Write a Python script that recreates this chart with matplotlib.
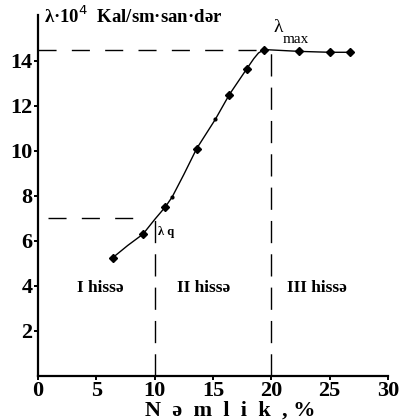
import matplotlib
matplotlib.use("Agg")
import matplotlib.pyplot as plt

# Moisture content (%) and thermal conductivity (x10^4 kal/sm·san·dər)
moisture = [6.4, 9.0, 10.9, 13.6, 16.4, 17.9, 19.4, 22.4, 25.0, 26.7]
conductivity = [5.25, 6.3, 7.5, 10.1, 12.5, 13.65, 14.5, 14.42, 14.38, 14.38]

# additional points read along the curve between the measurements
curve_x = [6.4, 7.7, 9.0, 10.0, 10.9, 11.5, 12.5, 13.6, 15.2, 16.4, 17.9, 18.5, 18.9, 19.4, 22.4, 25.0, 26.7]
curve_y = [5.25, 5.8, 6.3, 6.95, 7.5, 7.95, 8.95, 10.1, 11.4, 12.5, 13.65, 14.1, 14.35, 14.5, 14.42, 14.38, 14.38]
minor_x = [11.5, 15.2]
minor_y = [7.95, 11.4]

lam_q = 7.0
lam_q_x = 10.0
lam_max = 14.5
lam_max_x = 20.0

x_ticks = [0, 5, 10, 15, 20, 25, 30]
y_ticks = [2, 4, 6, 8, 10, 12, 14]
regions = ["I hissə", "II hissə", "III hissə"]
region_x = [5.3, 14.2, 23.9]

serif = ["Liberation Serif", "DejaVu Serif"]

fig = plt.figure(figsize=(4.0, 4.2), dpi=100)
ax = fig.add_axes([0.095, 0.105, 0.875, 0.86])
ax.set_xlim(0, 30)
ax.set_ylim(0, 16.05)

for s in ["top", "right"]:
    ax.spines[s].set_visible(False)
for s in ["left", "bottom"]:
    ax.spines[s].set_linewidth(1.6)

ax.set_xticks(x_ticks)
ax.set_yticks(y_ticks)
ax.tick_params(axis="both", direction="out", length=3, width=1.4, pad=1,
               labelsize=16)
for lab in ax.get_xticklabels() + ax.get_yticklabels():
    lab.set_family(serif)
    lab.set_fontweight("bold")

hdash = (0, (13, 11))
vdash = (0, (16, 8))
ax.plot([0, lam_max_x], [lam_max, lam_max], color="black", lw=1.0, ls=hdash)
ax.plot([lam_max_x, lam_max_x], [0, lam_max], color="black", lw=1.0, ls=vdash)
ax.plot([0.85, 8.3], [lam_q, lam_q], color="black", lw=1.0, ls=hdash)
ax.plot([lam_q_x, lam_q_x], [0, lam_q], color="black", lw=1.0, ls=vdash)

ax.plot(curve_x, curve_y, color="black", lw=1.0)
ax.plot(moisture, conductivity, ls="none", marker="D", ms=4, color="black")
ax.plot(minor_x, minor_y, ls="none", marker="o", ms=2, color="black")

ax.text(20.2, 15.1, "λ", fontsize=14, family=serif, ha="left", va="bottom")
ax.text(21.0, 14.65, "max", fontsize=11, family=serif, ha="left", va="bottom")
ax.text(10.3, 6.4, "λ q", fontsize=9, family=serif, fontweight="bold",
        ha="left", va="center")

for name, rx in zip(regions, region_x):
    ax.text(rx, 3.9, name, fontsize=12.5, family=serif, fontweight="bold",
            ha="center", va="center")

ax.text(0.55, 16.0, "λ·10$^{4}$  Kal/sm·san·dər", fontsize=13.5, family=serif,
        fontweight="bold", ha="left", va="center", clip_on=False)
fig.text(0.575, 0.022, "N  ə  m  l  i  k  , %", fontsize=16, family=serif,
         fontweight="bold", ha="center", va="center")

fig.savefig("out.png", dpi=100)
